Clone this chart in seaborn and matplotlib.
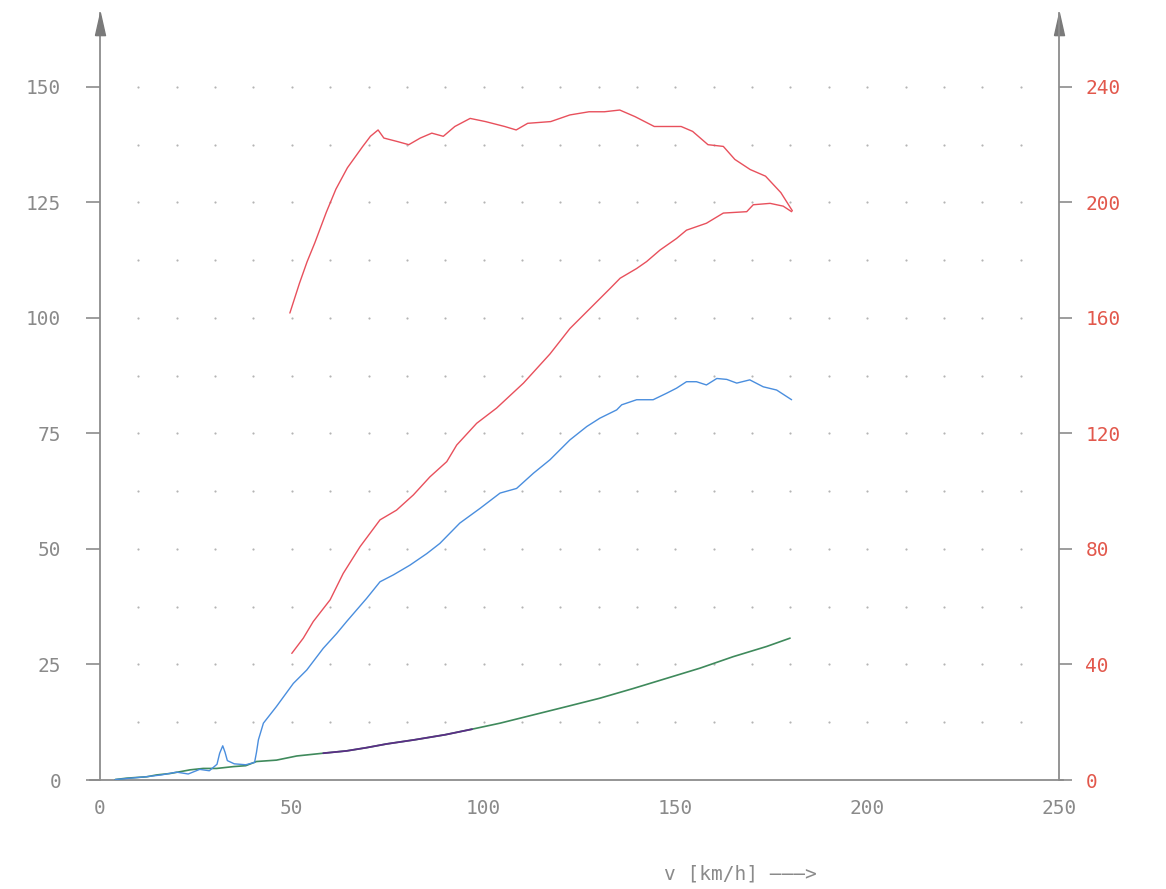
import numpy as np
import pandas as pd
import matplotlib
matplotlib.use('Agg')
import matplotlib.pyplot as plt
import seaborn as sns

# speed [km/h] and values

# torque (right axis, Nm)
torque_v = [49.5, 52, 54, 56, 59, 61.5, 64.5, 68.5, 70.5, 72.5, 74, 77.5, 80.5, 83.5,
            86.5, 89.5, 92.5, 96.5, 100.5, 105.5, 108.5, 111.5, 117.5, 122.5, 127.5,
            131.5, 135.5, 139.5, 144.5, 151.5, 154.5, 158.5, 162.5, 165.5, 169.5,
            173.5, 177.5, 180.5]
torque_nm = [161.7, 172, 179.5, 186, 196.6, 204.6, 212, 219.4, 222.9, 225.1, 222.3,
             221.1, 220, 222.3, 224, 222.9, 226.3, 229.1, 228, 226.3, 225.1, 227.4, 228,
             230.3, 231.4, 231.4, 232, 229.7, 226.3, 226.3, 224.6, 220, 219.4, 214.9,
             211.4, 209.1, 203.4, 197.1]

# engine power (left axis, kW) - red
power_v = [50, 53, 55.6, 60, 63.4, 67.8, 73, 77.3, 81.7, 86, 90.4, 93, 98.2, 103.4,
           110.4, 117.3, 122.5, 126, 133, 135.6, 139.9, 142.5, 146, 150.3, 152.9,
           158.1, 162.5, 168.6, 170.3, 174.7, 178.1, 180.3]
power_kw = [27.4, 30.7, 34.3, 39, 44.7, 50.5, 56.3, 58.4, 61.7, 65.6, 68.9, 72.5, 77.2,
            80.5, 85.9, 92.2, 97.7, 100.6, 106.4, 108.6, 110.7, 112.2, 114.7, 117.2,
            119, 120.5, 122.7, 123, 124.5, 124.8, 124.2, 123]

# wheel power (left axis, kW) - blue
wheel_v = [4, 8, 12, 16, 20, 23, 26, 28.5, 30.5, 31.2, 32, 32.6, 33.2, 35, 38, 40.3,
           40.8, 41.3, 42.6, 46, 50.4, 53.9, 58.2, 61.7, 64.3, 69.5, 73, 76.5, 80.8,
           85.2, 88.6, 93.8, 99.1, 104.3, 108.6, 113, 117.3, 122.5, 126.9, 130.3,
           134.7, 136, 139.9, 144.2, 147.7, 150.3, 152.9, 155.5, 158.1, 160.8, 163.4,
           166, 169.4, 172.9, 176.4, 180.3]
wheel_kw = [0.1, 0.4, 0.7, 1.1, 1.7, 1.3, 2.3, 2.0, 3.4, 5.8, 7.4, 6.0, 4.2, 3.5, 3.3,
            3.8, 6.0, 8.7, 12.3, 15.9, 20.9, 23.8, 28.5, 31.7, 34.3, 39.3, 42.9, 44.4,
            46.5, 49, 51.2, 55.6, 58.8, 62.1, 63.1, 66.4, 69.3, 73.6, 76.5, 78.3, 80.1,
            81.2, 82.3, 82.3, 83.7, 84.8, 86.2, 86.2, 85.5, 86.9, 86.7, 85.9, 86.6,
            85.1, 84.4, 82.3]

# drag power (left axis, kW) - green
drag_v = [4, 7, 12.2, 14.8, 18.2, 20.9, 23.5, 26.9, 30.4, 34.8, 38, 40.8, 46, 51.3,
          58.2, 64.3, 69.5, 74.7, 82, 90, 97, 104.3, 113, 121.7, 130.3, 139, 147.7,
          156.4, 165.1, 173.8, 179.9]
drag_kw = [0.1, 0.4, 0.7, 1.1, 1.4, 1.8, 2.2, 2.5, 2.5, 2.9, 3.1, 4.0, 4.3, 5.2, 5.8,
           6.3, 7.0, 7.8, 8.7, 9.8, 11.0, 12.3, 14.1, 15.9, 17.7, 19.8, 22.0, 24.2,
           26.7, 28.9, 30.7]

x_ticks = [0, 50, 100, 150, 200, 250]
left_ticks = [0, 25, 50, 75, 100, 125, 150]
right_ticks = [0, 40, 80, 120, 160, 200, 240]

torque = pd.DataFrame({'v': torque_v, 'val': torque_nm})
power = pd.DataFrame({'v': power_v, 'val': power_kw})
wheel = pd.DataFrame({'v': wheel_v, 'val': wheel_kw})
drag = pd.DataFrame({'v': drag_v, 'val': drag_kw})
drag_mid = drag[(drag['v'] >= 55) & (drag['v'] <= 100)]

sns.set_style('white')
plt.rcParams['font.family'] = ['DejaVu Sans Mono', 'DejaVu Sans']

axis_col = '#8c8c8c'
red = '#e8505c'
red_lbl = '#e2584c'

fig = plt.figure(figsize=(11.66, 8.89), dpi=100)
ax = fig.add_axes([90.4 / 1166, 1 - 780 / 889, 972.4 / 1166, 767 / 889])
ax2 = ax.twinx()

ax.set_xlim(-2.5, 251)
ax.set_ylim(0, 166)
ax2.set_ylim(0, 166 * 1.6)

# dotted grid
gx, gy = np.meshgrid(np.arange(10, 250, 10), np.arange(12.5, 151, 12.5))
ax.scatter(gx.ravel(), gy.ravel(), s=2.5, color='#b4b4b4', linewidths=0, zorder=1)

sns.lineplot(data=drag, x='v', y='val', ax=ax, color='#3f8a5c', lw=1.2,
             sort=False, estimator=None, zorder=3)
sns.lineplot(data=drag_mid, x='v', y='val', ax=ax, color='#5a2e86', lw=1.3,
             sort=False, estimator=None, zorder=4)
sns.lineplot(data=wheel, x='v', y='val', ax=ax, color='#4a8ede', lw=1.0,
             sort=False, estimator=None, zorder=3)
sns.lineplot(data=power, x='v', y='val', ax=ax, color=red, lw=1.0,
             sort=False, estimator=None, zorder=3)
sns.lineplot(data=torque, x='v', y='val', ax=ax2, color=red, lw=1.0,
             sort=False, estimator=None, zorder=3)

for a in (ax, ax2):
    a.set_xlabel('')
    a.set_ylabel('')
    a.patch.set_visible(False)
    for s in a.spines.values():
        s.set_visible(False)

ax.spines['left'].set_visible(True)
ax.spines['left'].set_position(('data', 0))
ax.spines['bottom'].set_visible(True)
ax2.spines['right'].set_visible(True)
ax2.spines['right'].set_position(('data', 250))
for s in (ax.spines['left'], ax.spines['bottom'], ax2.spines['right']):
    s.set_color(axis_col)
    s.set_linewidth(1.3)

# arrow heads on the vertical axes
arrow = [(-0.45, -1), (0.45, -1), (0, 1), (-0.45, -1)]
for xv in (0, 250):
    ax.plot([xv], [163.6], marker=arrow, ms=16, color='#7a7a7a', clip_on=False, zorder=5)

ax.set_xticks(x_ticks)
ax.set_xticklabels([str(t) for t in x_ticks])
ax.set_yticks(left_ticks)
ax.set_yticklabels([str(t) for t in left_ticks])
ax2.set_yticks(right_ticks)
ax2.set_yticklabels([str(t) for t in right_ticks])

ax.tick_params(axis='x', direction='inout', length=12, width=1.2, color=axis_col,
               labelsize=14, labelcolor='#8a8a8a', pad=8)
ax.tick_params(axis='y', direction='out', length=10, width=1.2, color=axis_col,
               labelsize=14, labelcolor='#8a8a8a', pad=18)
ax2.tick_params(axis='y', direction='out', length=9, width=1.2, color=axis_col,
                labelsize=14, labelcolor=red_lbl, pad=10)

fig.text(740 / 1166, 1 - 874 / 889, 'v [km/h] \u2014\u2014\u2014>', ha='center',
         va='center', fontsize=14, color='#8a8a8a')

fig.savefig('out.png', dpi=100, facecolor='white')
